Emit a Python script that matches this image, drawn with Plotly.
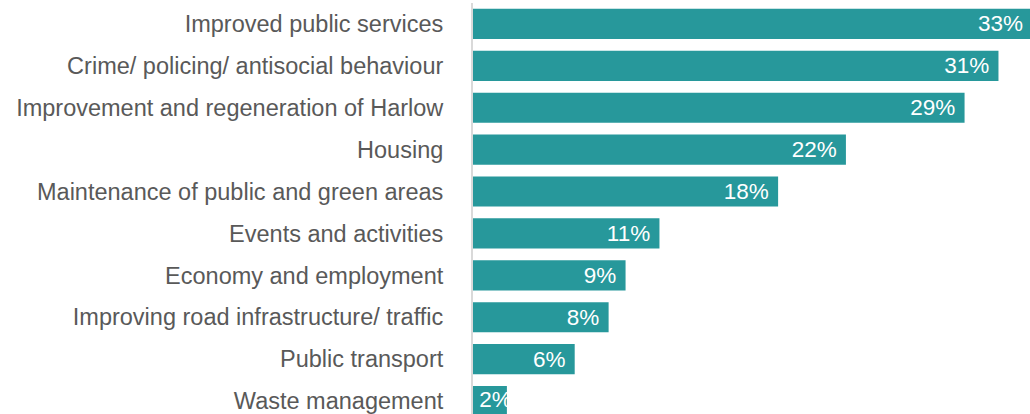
import plotly.graph_objects as go

# Survey themes and share of respondents (%)
categories = [
    "Improved public services",
    "Crime/ policing/ antisocial behaviour",
    "Improvement and regeneration of Harlow",
    "Housing",
    "Maintenance of public and green areas",
    "Events and activities",
    "Economy and employment",
    "Improving road infrastructure/ traffic",
    "Public transport",
    "Waste management",
]
values = [33, 31, 29, 22, 18, 11, 9, 8, 6, 2]

# bars shorter than this carry their label from the axis side instead of the end
SHORT_BAR = 4

# a trailing no-break space keeps the label a little away from the bar end
end_labels = [f"{v}%\u00a0" if v >= SHORT_BAR else "" for v in values]
short_cats = [c for c, v in zip(categories, values) if v < SHORT_BAR]
short_labels = [f"\u00a0{v}%" for v in values if v < SHORT_BAR]

BAR_COLOR = "#27989b"
TEXT_GRAY = "#595959"
FONT = "Liberation Sans, Arial, sans-serif"

fig = go.Figure()

fig.add_trace(
    go.Bar(
        x=values,
        y=categories,
        orientation="h",
        marker=dict(color=BAR_COLOR, line=dict(width=0)),
        width=0.72,
        text=end_labels,
        textposition="inside",
        insidetextanchor="end",
        constraintext="none",
        textangle=0,
        textfont=dict(family=FONT, size=22.5, color="white"),
        cliponaxis=True,
        hoverinfo="skip",
    )
)

# labels for short bars start at the bar base; any overflow is white on white
fig.add_trace(
    go.Scatter(
        x=[0] * len(short_cats),
        y=short_cats,
        mode="text",
        text=short_labels,
        textposition="middle right",
        textfont=dict(family=FONT, size=22.5, color="white"),
        cliponaxis=True,
        hoverinfo="skip",
    )
)

fig.update_layout(
    width=1030,
    height=414,
    margin=dict(l=473, r=0, t=3, b=0),
    paper_bgcolor="white",
    plot_bgcolor="white",
    showlegend=False,
)

fig.update_xaxes(
    range=[0, 32.86],
    showgrid=False,
    zeroline=False,
    showticklabels=False,
    showline=False,
    fixedrange=True,
)

fig.update_yaxes(
    type="category",
    categoryorder="array",
    categoryarray=categories,
    range=[9.31, -0.5],
    showgrid=False,
    zeroline=False,
    showline=True,
    linecolor="#d9d9d9",
    linewidth=2,
    ticks="",
    ticklabelstandoff=23,
    tickfont=dict(family=FONT, size=23.5, color=TEXT_GRAY),
    fixedrange=True,
)

fig.write_html("out.html")
